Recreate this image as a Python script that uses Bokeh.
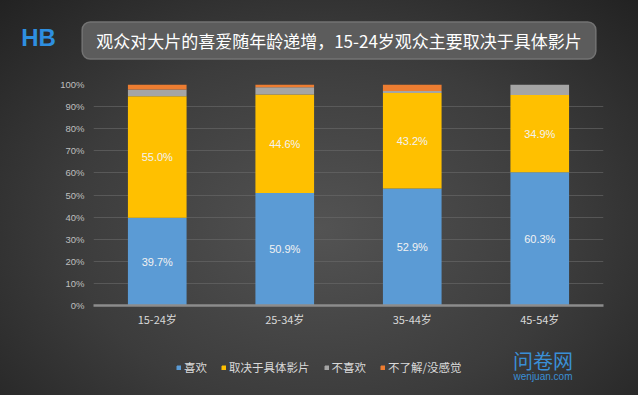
from bokeh.plotting import figure
from bokeh.layouts import column
from bokeh.models import (ColumnDataSource, FactorRange, Range1d, FixedTicker,
                          NumeralTickFormatter, Legend, LegendItem, Label,
                          GlobalInlineStyleSheet)
from bokeh.core.properties import value
from bokeh.embed import file_html
from bokeh.resources import INLINE

# ---- data ----
categories = ["15-24岁", "25-34岁", "35-44岁", "45-54岁"]
series_names = ["喜欢", "取决于具体影片", "不喜欢", "不了解/没感觉"]
like = [39.7, 50.9, 52.9, 60.3]
depends = [55.0, 44.6, 43.2, 34.9]
dislike = [3.0, 3.3, 1.0, 4.8]
unknown = [2.3, 1.2, 2.9, 0.0]
y_ticks = [0, 0.1, 0.2, 0.3, 0.4, 0.5, 0.6, 0.7, 0.8, 0.9, 1.0]
title_text = "观众对大片的喜爱随年龄递增，15-24岁观众主要取决于具体影片"
logo_text = "HB"
watermark_cn = "问卷网"
watermark_en = "wenjuan.com"

colors = ["#5b9bd5", "#ffc000", "#a5a5a5", "#ed7d31"]
keys = ["like", "depends", "dislike", "unknown"]

W = 638
H_TOP, H_MAIN, H_BOT = 70, 270, 55


def blank(height):
    f = figure(width=W, height=height, x_range=Range1d(0, W), y_range=Range1d(0, height),
               x_axis_type=None, y_axis_type=None, output_backend="svg",
               toolbar_location=None, min_border=0, frame_align=False)
    f.grid.visible = False
    f.background_fill_alpha = 0
    f.border_fill_alpha = 0
    f.outline_line_color = None
    return f


# ---------------- header: logo + title ----------------
top = blank(H_TOP)
top.add_layout(Label(x=338.5, y=H_TOP - 40, text=title_text,
                     text_align="center", text_baseline="middle",
                     text_color="#ffffff", text_font_size="17px", text_font="Noto Sans CJK SC",
                     background_fill_color="#5c5c5c", border_line_color="#737373",
                     border_line_width=1.5, padding=(14, 14, 6, 6), border_radius=8))
top.add_layout(Label(x=38, y=H_TOP - 37, text=logo_text,
                     text_align="center", text_baseline="middle", text_color="#2e8fe0",
                     text_font_size="24px", text_font_style="bold", text_font="Liberation Sans"))

# ---------------- main chart ----------------
data = dict(cat=categories,
            like=[v / 100 for v in like],
            depends=[v / 100 for v in depends],
            dislike=[v / 100 for v in dislike],
            unknown=[v / 100 for v in unknown])
src = ColumnDataSource(data)

fig = figure(x_range=FactorRange(*categories, range_padding=0),
             y_range=Range1d(0, 1),
             width=W, height=H_MAIN, output_backend="svg", toolbar_location=None,
             min_border_left=93, min_border_right=35,
             min_border_top=14, min_border_bottom=35)
fig.background_fill_alpha = 0
fig.border_fill_alpha = 0
fig.outline_line_color = None

renderers = fig.vbar_stack(keys, x="cat", width=0.46, color=colors,
                           line_color=None, source=src)

lab_src = ColumnDataSource(dict(
    x=categories + categories,
    y=[l / 200 for l in like] + [(l + d / 2) / 100 for l, d in zip(like, depends)],
    t=[f"{v:.1f}%" for v in like] + [f"{v:.1f}%" for v in depends]))
fig.text(x="x", y="y", text="t", source=lab_src, text_align="center",
         text_baseline="middle", text_color="#f2f2f2", text_font_size="11px",
         text_font=value("Liberation Sans"))

fig.yaxis.ticker = FixedTicker(ticks=y_ticks)
fig.yaxis.formatter = NumeralTickFormatter(format="0%")
fig.yaxis.axis_line_color = None
fig.yaxis.major_tick_line_color = None
fig.yaxis.minor_tick_line_color = None
fig.yaxis.major_tick_out = 0
fig.yaxis.major_tick_in = 0
fig.yaxis.minor_tick_out = 0
fig.yaxis.major_label_text_color = "#bfbfbf"
fig.yaxis.major_label_text_font_size = "9.5px"
fig.yaxis.major_label_text_font = "Liberation Sans"
fig.yaxis.major_label_standoff = 9

fig.xaxis.axis_line_color = "#8c8c8c"
fig.xaxis.axis_line_width = 2.5
fig.xaxis.major_tick_line_color = None
fig.xaxis.minor_tick_line_color = None
fig.xaxis.major_tick_out = 0
fig.xaxis.major_tick_in = 0
fig.xaxis.minor_tick_out = 0
fig.xaxis.major_label_text_color = "#d9d9d9"
fig.xaxis.major_label_text_font_size = "11px"
fig.xaxis.major_label_text_font = "Noto Sans CJK SC"
fig.xaxis.major_label_standoff = 5

fig.xgrid.grid_line_color = None
fig.ygrid.grid_line_color = "#6a6a6a"
fig.ygrid.grid_line_alpha = 0.6

# ---------------- footer: legend + watermark ----------------
bot = blank(H_BOT)
# zero-size swatch renderers (only their legend glyphs are visible)
swatches = [bot.vbar(x=[0], top=[0], width=0, color=c) for c in colors]
legend = Legend(items=[LegendItem(label=n, renderers=[r]) for n, r in zip(series_names, swatches)],
                orientation="horizontal", location=(176, 20),
                glyph_width=5, glyph_height=5, label_standoff=3, spacing=14,
                label_height=14, padding=0, margin=0,
                background_fill_alpha=0, border_line_color=None,
                label_text_color="#d9d9d9", label_text_font_size="11.5px",
                label_text_font="Noto Sans CJK SC")
bot.add_layout(legend, "center")
bot.add_layout(Label(x=542.5, y=35, text=watermark_cn, text_align="center",
                     text_baseline="middle", text_color="#3a8fd6",
                     text_font_size="20px", text_font="Noto Sans CJK SC"))
bot.add_layout(Label(x=542.5, y=19, text=watermark_en, text_align="center",
                     text_baseline="middle", text_color="#3a8fd6",
                     text_font_size="10px", text_font="Liberation Sans"))

p = column(top, fig, bot, spacing=0)
p.stylesheets = [GlobalInlineStyleSheet(css="""
html { min-height: 100%; background: radial-gradient(ellipse farthest-corner at 50% 58%, #535353 0%, #3c3c3c 55%, #222222 100%); }
body { background: transparent; }
""")]

open("out.html", "w").write(file_html(p, INLINE))
